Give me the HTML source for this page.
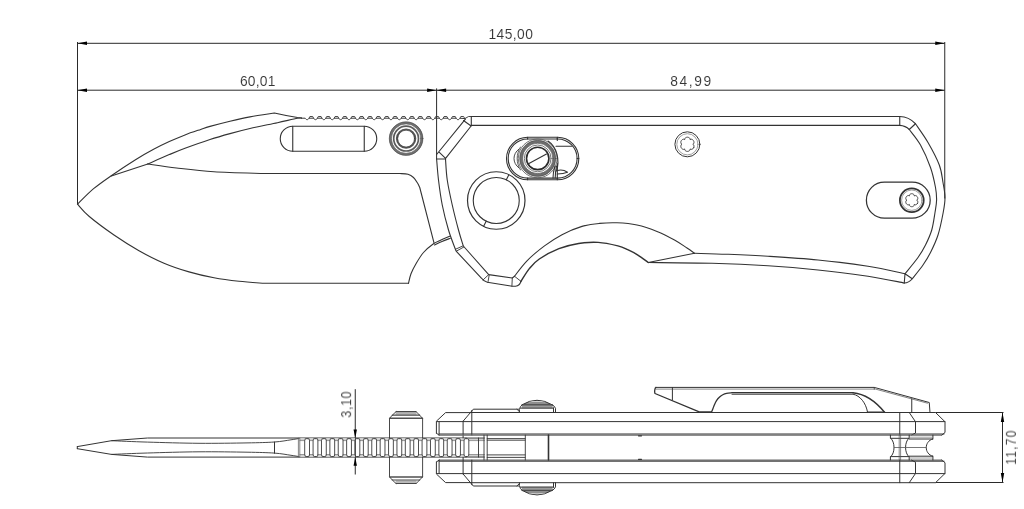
<!DOCTYPE html>
<html><head><meta charset="utf-8"><title>Knife drawing</title>
<style>
html,body{margin:0;padding:0;background:#fff;}
body{width:1024px;height:509px;overflow:hidden;font-family:"Liberation Sans",sans-serif;}
svg{display:block;}
</style></head><body>
<svg width="1024" height="509" viewBox="0 0 1024 509">
<rect width="1024" height="509" fill="#fff"/>
<g stroke="#2a2a2a" stroke-width="1" fill="none">
<path d="M77.5 42V204.2"/>
<path d="M944.75 42V198.5"/>
<path d="M436.6 88.4V159"/>
<path d="M77.5 43.3H944.75"/>
<path d="M77.5 90.2H944.75"/>
<path d="M355.25 389.2V474.5"/>
<path d="M935.5 412.5H1003.5M935.5 482.5H1003.5M1002.5 412.5V482.5"/>
</g>
<g fill="#000" stroke="none">
<path d="M77.50 43.30 L87.00 41.60 L87.00 45.00 Z"/>
<path d="M944.75 43.30 L935.25 45.00 L935.25 41.60 Z"/>
<path d="M77.50 90.20 L87.00 88.50 L87.00 91.90 Z"/>
<path d="M944.75 90.20 L935.25 91.90 L935.25 88.50 Z"/>
<path d="M436.60 90.20 L427.10 91.90 L427.10 88.50 Z"/>
<path d="M436.60 90.20 L446.10 88.50 L446.10 91.90 Z"/>
<path d="M355.25 438.00 L353.55 429.50 L356.95 429.50 Z"/>
<path d="M355.25 457.30 L356.95 465.80 L353.55 465.80 Z"/>
<path d="M1002.50 412.50 L1004.20 422.00 L1000.80 422.00 Z"/>
<path d="M1002.50 482.50 L1000.80 473.00 L1004.20 473.00 Z"/>
</g>
<g font-family="'Liberation Sans', sans-serif" fill="#333" stroke="#fff" stroke-width="0.08" opacity="0.99">
<text transform="translate(488.5 38.5)" font-size="13.8" textLength="44.4" lengthAdjust="spacing">145,00</text>
<text transform="translate(239.9 85.6)" font-size="13.8" textLength="35.6" lengthAdjust="spacing">60,01</text>
<text transform="translate(670.2 85.6)" font-size="13.8" textLength="41" lengthAdjust="spacing">84,99</text>
<text transform="translate(351.1 417.6) rotate(-90) scale(0.87 1)" font-size="14.4" textLength="30.1" lengthAdjust="spacing">3,10</text>
<text transform="translate(1015.9 464.7) rotate(-90) scale(0.87 1)" font-size="14.0" textLength="39.2" lengthAdjust="spacing">11,70</text>
</g>
<g stroke="#333" stroke-width="1.1" fill="none" stroke-linecap="round" stroke-linejoin="round">
<path d="M77.66 204.00C80.32 201.45 87.99 193.42 93.60 188.70C99.21 183.98 104.32 180.53 111.30 175.70C118.28 170.87 128.45 164.10 135.50 159.70C142.55 155.30 147.97 152.32 153.60 149.30C159.23 146.28 164.07 144.00 169.30 141.60C174.53 139.20 179.77 136.93 185.00 134.90C190.23 132.87 196.53 130.82 200.70 129.40C204.87 127.98 205.12 127.77 210.00 126.40C214.88 125.03 223.33 122.79 230.00 121.20C236.67 119.61 242.60 118.20 250.00 116.85C257.40 115.49 270.33 113.70 274.40 113.07Q285.5 115.7 297.5 117.5L301.5 118"/>
<path d="M111.30 176.00L147.80 164.00"/>
<path d="M147.80 164.00C151.38 162.43 163.10 157.22 169.30 154.60C175.50 151.98 178.22 150.82 185.00 148.30C191.78 145.78 202.50 141.95 210.00 139.50C217.50 137.05 223.33 135.43 230.00 133.60C236.67 131.77 242.08 130.32 250.00 128.50C257.92 126.68 269.58 124.40 277.50 122.70C285.42 121.00 293.50 119.07 297.50 118.30C301.50 117.53 300.83 118.13 301.50 118.10"/>
<path d="M147.80 164.00C152.58 164.67 165.47 166.71 176.50 168.00C187.53 169.29 199.42 170.83 214.00 171.75C228.58 172.67 255.67 173.21 264.00 173.50L400.00 173.50C401.33 173.63 405.75 173.63 408.00 174.30C410.25 174.97 411.92 176.05 413.50 177.50C415.08 178.95 416.46 181.33 417.50 183.00C418.54 184.67 419.38 186.75 419.75 187.50L434.00 242.80"/>
<path d="M77.50 204.20C79.42 206.21 82.92 211.12 89.00 216.25C95.08 221.38 105.67 229.26 114.00 235.00C122.33 240.74 130.67 246.00 139.00 250.70C147.33 255.40 155.67 259.67 164.00 263.20C172.33 266.73 180.67 269.47 189.00 271.90C197.33 274.33 205.67 276.23 214.00 277.80C222.33 279.37 230.67 280.39 239.00 281.30C247.33 282.21 259.83 282.93 264.00 283.25L408.50 283.25"/>
<path d="M408.50 283.25C408.92 281.67 409.75 277.00 411.00 273.75C412.25 270.50 413.92 267.29 416.00 263.75C418.08 260.21 420.58 255.83 423.50 252.50C426.42 249.17 430.58 245.83 433.50 243.75C436.42 241.67 438.29 241.25 441.00 240.00C443.71 238.75 448.29 236.88 449.75 236.25"/>
<path d="M434.50 245.00C435.75 244.42 439.37 242.62 442.00 241.50C444.63 240.38 448.92 238.83 450.30 238.30"/>
<path d="M301.5 118.2L305.20 118.2C306.20 120.2 308.00 120.2 309.00 118.2L313.59 118.2C314.59 120.2 316.38 120.2 317.38 118.2L321.97 118.2C322.97 120.2 324.77 120.2 325.77 118.2L330.36 118.2C331.36 120.2 333.15 120.2 334.15 118.2L338.74 118.2C339.74 120.2 341.54 120.2 342.54 118.2L347.13 118.2C348.13 120.2 349.93 120.2 350.93 118.2L355.51 118.2C356.51 120.2 358.31 120.2 359.31 118.2L363.90 118.2C364.90 120.2 366.69 120.2 367.69 118.2L372.28 118.2C373.28 120.2 375.08 120.2 376.08 118.2L380.67 118.2C381.67 120.2 383.47 120.2 384.47 118.2L389.05 118.2C390.05 120.2 391.85 120.2 392.85 118.2L397.44 118.2C398.44 120.2 400.24 120.2 401.24 118.2L405.82 118.2C406.82 120.2 408.62 120.2 409.62 118.2L414.21 118.2C415.21 120.2 417.00 120.2 418.00 118.2L422.59 118.2C423.59 120.2 425.39 120.2 426.39 118.2L430.98 118.2C431.98 120.2 433.77 120.2 434.77 118.2L439.36 118.2C440.36 120.2 442.16 120.2 443.16 118.2L447.75 118.2C448.75 120.2 450.54 120.2 451.54 118.2L456.13 118.2C457.13 120.2 458.93 120.2 459.93 118.2L464.8 118.6" stroke-width="1.0" stroke="#383838"/>
<path d="M309.00 118.2L309.90 116.5H312.70L313.60 118.2M317.38 118.2L318.29 116.5H321.09L321.99 118.2M325.77 118.2L326.67 116.5H329.47L330.37 118.2M334.15 118.2L335.06 116.5H337.86L338.75 118.2M342.54 118.2L343.44 116.5H346.24L347.14 118.2M350.93 118.2L351.83 116.5H354.63L355.53 118.2M359.31 118.2L360.21 116.5H363.01L363.91 118.2M367.69 118.2L368.60 116.5H371.40L372.30 118.2M376.08 118.2L376.98 116.5H379.78L380.68 118.2M384.47 118.2L385.37 116.5H388.17L389.07 118.2M392.85 118.2L393.75 116.5H396.55L397.45 118.2M401.24 118.2L402.14 116.5H404.94L405.84 118.2M409.62 118.2L410.52 116.5H413.32L414.22 118.2M418.00 118.2L418.91 116.5H421.71L422.61 118.2M426.39 118.2L427.29 116.5H430.09L430.99 118.2M434.77 118.2L435.68 116.5H438.48L439.38 118.2M443.16 118.2L444.06 116.5H446.86L447.76 118.2M451.54 118.2L452.44 116.5H455.25L456.14 118.2M459.93 118.2L460.83 116.5H463.63L464.53 118.2" stroke-width="0.9" stroke="#383838"/>
<path d="M464.8 118.6L468.6 116.5H471.3" stroke-width="0.9"/>
<path d="M292.75 126.3H364.25A12.5 12.5 0 0 1 364.25 151.3H292.75A12.5 12.5 0 0 1 292.75 126.3Z"/>
<path d="M292.75 126.3V151.3M364.25 126.3V151.3"/>
<circle cx="406.10" cy="138.60" r="15.75" stroke-width="2.4" stroke="#707070"/>
<circle cx="406.10" cy="138.60" r="16.80" stroke-width="0.6" stroke="#444"/>
<circle cx="406.10" cy="138.60" r="14.70" stroke-width="0.6" stroke="#555"/>
<circle cx="406.10" cy="138.60" r="12.40" stroke-width="1.7" stroke="#5a5a5a"/>
<circle cx="406.10" cy="138.60" r="9.25" stroke-width="1.9" stroke="#555"/>
<circle cx="406.10" cy="138.60" r="8.40" stroke-width="0.6" stroke="#333"/>
<path d="M471.30 116.50L899.75 116.50C906 116.6 911.5 119.5 915.5 123.75C917.58 126.88 924.03 135.62 928.00 142.50C931.97 149.38 936.80 158.33 939.30 165.00C941.80 171.67 942.05 177.08 943.00 182.50C943.95 187.92 944.97 192.50 945.00 197.50C945.03 202.50 944.37 206.25 943.20 212.50C942.03 218.75 940.12 228.33 938.00 235.00C935.88 241.67 933.00 247.50 930.50 252.50C928.00 257.50 926.04 260.62 923.00 265.00C919.96 269.38 914.04 276.46 912.25 278.75C910 281.5 907.5 283 904.25 283"/>
<path d="M904.25 283.00C898.21 281.88 882.38 278.42 868.00 276.25C853.62 274.08 834.67 271.75 818.00 270.00C801.33 268.25 785.67 266.88 768.00 265.75C750.33 264.62 731.96 263.79 712.00 263.25C692.04 262.71 658.88 262.62 648.25 262.50"/>
<path d="M471.30 125.40L899.75 125.40C903.5 125.6 906.8 127 909.25 129.5C911.12 132.08 916.96 138.67 920.50 145.00C924.04 151.33 928.00 160.42 930.50 167.50C933.00 174.58 934.48 182.08 935.50 187.50C936.52 192.92 936.68 195.83 936.60 200.00C936.52 204.17 935.81 207.50 935.00 212.50C934.19 217.50 933.33 224.58 931.75 230.00C930.17 235.42 927.79 240.42 925.50 245.00C923.21 249.58 921.42 252.71 918.00 257.50C914.58 262.29 907.17 271.04 905.00 273.75"/>
<path d="M905.00 273.75C898.83 272.50 882.50 268.54 868.00 266.25C853.50 263.96 834.67 261.67 818.00 260.00C801.33 258.33 783.17 257.21 768.00 256.25C752.83 255.29 739.25 254.75 727.00 254.25C714.75 253.75 699.92 253.42 694.50 253.25"/>
<path d="M899.75 116.5V125.4M909.25 129.5L915.5 123.75M905 273.75L904.25 283M905 273.75L912.25 278.75"/>
<path d="M648.25 262.5L694.5 253.25"/>
<path d="M520.80 281.60C522.25 279.40 526.42 272.17 529.50 268.40C532.58 264.63 534.40 262.28 539.30 259.00C544.20 255.72 552.35 251.28 558.90 248.70C565.45 246.12 572.05 244.55 578.60 243.50C585.15 242.45 591.65 242.00 598.20 242.40C604.75 242.80 612.98 244.70 617.90 245.90C622.82 247.10 624.43 248.12 627.70 249.60C630.97 251.08 634.08 252.65 637.50 254.80C640.92 256.95 646.46 261.22 648.25 262.50" stroke-width="1.45"/>
<path d="M514.50 276.25C516.58 273.68 522.00 265.86 527.00 260.80C532.00 255.74 538.67 250.26 544.50 245.90C550.33 241.54 555.75 237.90 562.00 234.65C568.25 231.40 575.75 228.28 582.00 226.40C588.25 224.53 593.67 224.00 599.50 223.40C605.33 222.80 610.75 222.53 617.00 222.80C623.25 223.07 630.33 223.57 637.00 225.00C643.67 226.43 650.75 228.90 657.00 231.40C663.25 233.90 669.50 237.23 674.50 240.00C679.50 242.77 683.67 245.79 687.00 248.00C690.33 250.21 693.25 252.38 694.50 253.25"/>
<path d="M436.60 159.00C436.92 162.50 437.56 172.33 438.50 180.00C439.44 187.67 440.58 196.67 442.25 205.00C443.92 213.33 446.31 222.62 448.50 230.00C450.69 237.38 454.25 246.08 455.40 249.30Q455.7 250.6 456.6 251.6L481.60 278.30Q483.8 281.6 487.3 282.3L512.30 286.30L515.50 286.30C518.5 285.8 520.3 283.6 520.9 281.3"/>
<path d="M445.50 159.00C445.79 162.50 446.12 172.33 447.25 180.00C448.38 187.67 450.38 196.67 452.25 205.00C454.12 213.33 456.66 223.17 458.50 230.00C460.34 236.83 462.50 243.33 463.30 246.00L488.70 274.60L512.30 278.00L514.50 276.25"/>
<path d="M455.4 249.3L463.2 245.8M456.3 251.2L463.7 247.1M483 280L488.7 274.6M487.9 282.5L489.2 274.9M512.3 278L511.9 286.2M514.5 276.25L520.9 281.3" stroke-width="0.9"/>
<path d="M436.6 154.5L465.4 119.2M445.6 158.3L471.1 126M438.8 151.8L445.6 158.3M463.5 120.5L471.1 126M436.6 159H445.6M471.3 116.5V126"/>
<circle cx="496.25" cy="200.50" r="28.75" stroke-width="1.2"/>
<circle cx="496.25" cy="200.50" r="23.00"/>
<path d="M506.33 179.83 L508.85 174.66M486.17 221.17 L483.65 226.34"/>
<rect x="506.5" y="137.3" width="72.3" height="42.5" rx="21.25"/>
<rect x="508.2" y="139" width="68.9" height="39.1" rx="19.55"/>
<path d="M527.6 137.3V139M557.3 137.3V139M527.6 178.1V179.8M557.3 178.1V179.8M577.1 158.5H578.8"/>
<circle cx="537.70" cy="158.40" r="19.40" stroke-width="0.8" stroke="#555"/>
<circle cx="537.70" cy="158.40" r="16.60" stroke-width="2.9" stroke="#6e6e6e"/>
<circle cx="537.70" cy="158.40" r="18.00" stroke-width="0.6" stroke="#444"/>
<circle cx="537.70" cy="158.40" r="15.20" stroke-width="0.6" stroke="#444"/>
<circle cx="537.70" cy="158.40" r="13.40" stroke-width="0.9" stroke="#666"/>
<circle cx="537.70" cy="158.40" r="11.20" stroke-width="1.6" stroke="#2a2a2a"/>
<path d="M528 164L546.5 154"/>
<path d="M518.8 149.2C512.3 154 512.3 163 518.8 167.8" stroke-width="0.9"/>
<path d="M520.5 147C516 154 516 163 520.5 170" stroke-width="0.8"/>
<path d="M557.3 138V140.5M557.3 163.5V178.5M556 146.3H571.5"/>
<path d="M548 141C557 147 560 160 556.5 171"/>
<path d="M555 166C553.5 171 553 175 553 178M556.5 166C555.5 171 555.2 175 555.2 178"/>
<path d="M557.3 170.5C561 169.5 565 170.5 567.5 172.3C564 173.8 560.5 174 557.3 174"/>
<circle cx="687.40" cy="144.30" r="12.50" stroke-width="1.0"/>
<circle cx="687.40" cy="144.30" r="10.60" stroke-width="0.7" stroke="#777"/>
<path d="M693.55 147.85L693.19 148.35L692.74 148.78L692.21 149.11L691.62 149.33L690.96 149.39L690.10 148.98L690.02 149.93L689.64 150.47L689.16 150.87L688.61 151.16L688.02 151.34L687.40 151.40L686.78 151.34L686.19 151.16L685.64 150.87L685.16 150.47L684.78 149.93L684.70 148.98L683.84 149.39L683.18 149.33L682.59 149.11L682.06 148.78L681.61 148.35L681.25 147.85L680.99 147.29L680.85 146.68L680.83 146.06L680.94 145.44L681.22 144.84L682.00 144.30L681.22 143.76L680.94 143.16L680.83 142.54L680.85 141.92L680.99 141.31L681.25 140.75L681.61 140.25L682.06 139.82L682.59 139.49L683.18 139.27L683.84 139.21L684.70 139.62L684.78 138.67L685.16 138.13L685.64 137.73L686.19 137.44L686.78 137.26L687.40 137.20L688.02 137.26L688.61 137.44L689.16 137.73L689.64 138.13L690.02 138.67L690.10 139.62L690.96 139.21L691.62 139.27L692.21 139.49L692.74 139.82L693.19 140.25L693.55 140.75L693.81 141.31L693.95 141.92L693.97 142.54L693.86 143.16L693.58 143.76L692.80 144.30L693.58 144.84L693.86 145.44L693.97 146.06L693.95 146.68L693.81 147.29L693.55 147.85Z" stroke-width="0.9"/>
<circle cx="911.80" cy="200.20" r="11.90" stroke-width="1.8"/>
<circle cx="911.80" cy="200.20" r="10.20" stroke-width="0.7" stroke="#777"/>
<path d="M917.43 203.45L917.10 203.91L916.69 204.30L916.20 204.60L915.65 204.79L915.05 204.84L914.25 204.44L914.19 205.33L913.85 205.83L913.41 206.21L912.91 206.48L912.36 206.65L911.80 206.70L911.24 206.65L910.69 206.48L910.19 206.21L909.75 205.83L909.41 205.33L909.35 204.44L908.55 204.84L907.95 204.79L907.40 204.60L906.91 204.30L906.50 203.91L906.17 203.45L905.94 202.93L905.81 202.38L905.79 201.81L905.90 201.24L906.16 200.69L906.90 200.20L906.16 199.71L905.90 199.16L905.79 198.59L905.81 198.02L905.94 197.47L906.17 196.95L906.50 196.49L906.91 196.10L907.40 195.80L907.95 195.61L908.55 195.56L909.35 195.96L909.41 195.07L909.75 194.57L910.19 194.19L910.69 193.92L911.24 193.75L911.80 193.70L912.36 193.75L912.91 193.92L913.41 194.19L913.85 194.57L914.19 195.07L914.25 195.96L915.05 195.56L915.65 195.61L916.20 195.80L916.69 196.10L917.10 196.49L917.43 196.95L917.66 197.47L917.79 198.02L917.81 198.59L917.70 199.16L917.44 199.71L916.70 200.20L917.44 200.69L917.70 201.24L917.81 201.81L917.79 202.38L917.66 202.93L917.43 203.45Z" stroke-width="0.9"/>
<path d="M884.45 182.1H912.15A18.05 18.05 0 0 1 912.15 218.2H884.45A18.05 18.05 0 0 1 884.45 182.1Z" stroke-width="1.25"/>
</g>
<g stroke="#333" stroke-width="1" fill="none" stroke-linecap="round" stroke-linejoin="round">
<path d="M77.3 446.6V448.7"/>
<path d="M77.3 446.6L111.5 440.7L147.5 438H466"/>
<path d="M77.3 448.7L111.5 454.4L147.5 457.1H466"/>
<path d="M111.50 440.70C117.50 440.93 132.92 441.67 147.50 442.10C162.08 442.53 182.42 443.17 199.00 443.30C215.58 443.43 234.42 443.12 247.00 442.90C259.58 442.68 267.17 442.52 274.50 442.00C281.83 441.48 286.92 440.38 291.00 439.80C295.08 439.22 297.67 438.72 299.00 438.50" stroke-width="0.9"/>
<path d="M111.50 454.40C117.50 454.17 132.92 453.43 147.50 453.00C162.08 452.57 182.42 451.93 199.00 451.80C215.58 451.67 234.42 451.98 247.00 452.20C259.58 452.42 267.17 452.58 274.50 453.10C281.83 453.62 286.92 454.72 291.00 455.30C295.08 455.88 297.67 456.38 299.00 456.60" stroke-width="0.9"/>
<path d="M274.5 442V453.3"/>
<rect x="309.50" y="438" width="3.59" height="2.6" fill="#cfcfcf" stroke="none"/><rect x="309.50" y="454.5" width="3.59" height="2.6" fill="#cfcfcf" stroke="none"/><rect x="317.88" y="438" width="3.59" height="2.6" fill="#cfcfcf" stroke="none"/><rect x="317.88" y="454.5" width="3.59" height="2.6" fill="#cfcfcf" stroke="none"/><rect x="326.27" y="438" width="3.59" height="2.6" fill="#cfcfcf" stroke="none"/><rect x="326.27" y="454.5" width="3.59" height="2.6" fill="#cfcfcf" stroke="none"/><rect x="334.65" y="438" width="3.59" height="2.6" fill="#cfcfcf" stroke="none"/><rect x="334.65" y="454.5" width="3.59" height="2.6" fill="#cfcfcf" stroke="none"/><rect x="343.04" y="438" width="3.59" height="2.6" fill="#cfcfcf" stroke="none"/><rect x="343.04" y="454.5" width="3.59" height="2.6" fill="#cfcfcf" stroke="none"/><rect x="351.43" y="438" width="3.59" height="2.6" fill="#cfcfcf" stroke="none"/><rect x="351.43" y="454.5" width="3.59" height="2.6" fill="#cfcfcf" stroke="none"/><rect x="359.81" y="438" width="3.59" height="2.6" fill="#cfcfcf" stroke="none"/><rect x="359.81" y="454.5" width="3.59" height="2.6" fill="#cfcfcf" stroke="none"/><rect x="368.19" y="438" width="3.59" height="2.6" fill="#cfcfcf" stroke="none"/><rect x="368.19" y="454.5" width="3.59" height="2.6" fill="#cfcfcf" stroke="none"/><rect x="376.58" y="438" width="3.59" height="2.6" fill="#cfcfcf" stroke="none"/><rect x="376.58" y="454.5" width="3.59" height="2.6" fill="#cfcfcf" stroke="none"/><rect x="384.97" y="438" width="3.59" height="2.6" fill="#cfcfcf" stroke="none"/><rect x="384.97" y="454.5" width="3.59" height="2.6" fill="#cfcfcf" stroke="none"/><rect x="393.35" y="438" width="3.59" height="2.6" fill="#cfcfcf" stroke="none"/><rect x="393.35" y="454.5" width="3.59" height="2.6" fill="#cfcfcf" stroke="none"/><rect x="401.74" y="438" width="3.59" height="2.6" fill="#cfcfcf" stroke="none"/><rect x="401.74" y="454.5" width="3.59" height="2.6" fill="#cfcfcf" stroke="none"/><rect x="410.12" y="438" width="3.59" height="2.6" fill="#cfcfcf" stroke="none"/><rect x="410.12" y="454.5" width="3.59" height="2.6" fill="#cfcfcf" stroke="none"/><rect x="418.50" y="438" width="3.59" height="2.6" fill="#cfcfcf" stroke="none"/><rect x="418.50" y="454.5" width="3.59" height="2.6" fill="#cfcfcf" stroke="none"/><rect x="426.89" y="438" width="3.59" height="2.6" fill="#cfcfcf" stroke="none"/><rect x="426.89" y="454.5" width="3.59" height="2.6" fill="#cfcfcf" stroke="none"/><rect x="435.27" y="438" width="3.59" height="2.6" fill="#cfcfcf" stroke="none"/><rect x="435.27" y="454.5" width="3.59" height="2.6" fill="#cfcfcf" stroke="none"/><rect x="443.66" y="438" width="3.59" height="2.6" fill="#cfcfcf" stroke="none"/><rect x="443.66" y="454.5" width="3.59" height="2.6" fill="#cfcfcf" stroke="none"/><rect x="452.04" y="438" width="3.59" height="2.6" fill="#cfcfcf" stroke="none"/><rect x="452.04" y="454.5" width="3.59" height="2.6" fill="#cfcfcf" stroke="none"/><rect x="460.43" y="438" width="3.59" height="2.6" fill="#cfcfcf" stroke="none"/><rect x="460.43" y="454.5" width="3.59" height="2.6" fill="#cfcfcf" stroke="none"/><rect x="468.81" y="438" width="15.58" height="2.6" fill="#cfcfcf" stroke="none"/><rect x="468.81" y="454.5" width="15.58" height="2.6" fill="#cfcfcf" stroke="none"/><rect x="299.8" y="438" width="4.9" height="2.6" fill="#cfcfcf" stroke="none"/><rect x="299.8" y="454.5" width="4.9" height="2.6" fill="#cfcfcf" stroke="none"/>
<path d="M309.50 440.6H313.09M309.50 454.5H313.09M317.88 440.6H321.47M317.88 454.5H321.47M326.27 440.6H329.86M326.27 454.5H329.86M334.65 440.6H338.24M334.65 454.5H338.24M343.04 440.6H346.63M343.04 454.5H346.63M351.43 440.6H355.01M351.43 454.5H355.01M359.81 440.6H363.40M359.81 454.5H363.40M368.19 440.6H371.78M368.19 454.5H371.78M376.58 440.6H380.17M376.58 454.5H380.17M384.97 440.6H388.55M384.97 454.5H388.55M393.35 440.6H396.94M393.35 454.5H396.94M401.74 440.6H405.32M401.74 454.5H405.32M410.12 440.6H413.71M410.12 454.5H413.71M418.50 440.6H422.09M418.50 454.5H422.09M426.89 440.6H430.48M426.89 454.5H430.48M435.27 440.6H438.86M435.27 454.5H438.86M443.66 440.6H447.25M443.66 454.5H447.25M452.04 440.6H455.63M452.04 454.5H455.63M460.43 440.6H464.02M460.43 454.5H464.02M468.81 440.6H484.40M468.81 454.5H484.40M299.8 440.6H304.7M299.8 454.5H304.7" stroke-width="0.7" stroke="#777"/>
<path d="M304.70 440.2a1.5 1.5 0 0 1 1.5 -1.5h1.8a1.5 1.5 0 0 1 1.5 1.5V455a1.5 1.5 0 0 1 -1.5 1.5h-1.8a1.5 1.5 0 0 1 -1.5 -1.5ZM313.09 440.2a1.5 1.5 0 0 1 1.5 -1.5h1.8a1.5 1.5 0 0 1 1.5 1.5V455a1.5 1.5 0 0 1 -1.5 1.5h-1.8a1.5 1.5 0 0 1 -1.5 -1.5ZM321.47 440.2a1.5 1.5 0 0 1 1.5 -1.5h1.8a1.5 1.5 0 0 1 1.5 1.5V455a1.5 1.5 0 0 1 -1.5 1.5h-1.8a1.5 1.5 0 0 1 -1.5 -1.5ZM329.86 440.2a1.5 1.5 0 0 1 1.5 -1.5h1.8a1.5 1.5 0 0 1 1.5 1.5V455a1.5 1.5 0 0 1 -1.5 1.5h-1.8a1.5 1.5 0 0 1 -1.5 -1.5ZM338.24 440.2a1.5 1.5 0 0 1 1.5 -1.5h1.8a1.5 1.5 0 0 1 1.5 1.5V455a1.5 1.5 0 0 1 -1.5 1.5h-1.8a1.5 1.5 0 0 1 -1.5 -1.5ZM346.63 440.2a1.5 1.5 0 0 1 1.5 -1.5h1.8a1.5 1.5 0 0 1 1.5 1.5V455a1.5 1.5 0 0 1 -1.5 1.5h-1.8a1.5 1.5 0 0 1 -1.5 -1.5ZM355.01 440.2a1.5 1.5 0 0 1 1.5 -1.5h1.8a1.5 1.5 0 0 1 1.5 1.5V455a1.5 1.5 0 0 1 -1.5 1.5h-1.8a1.5 1.5 0 0 1 -1.5 -1.5ZM363.40 440.2a1.5 1.5 0 0 1 1.5 -1.5h1.8a1.5 1.5 0 0 1 1.5 1.5V455a1.5 1.5 0 0 1 -1.5 1.5h-1.8a1.5 1.5 0 0 1 -1.5 -1.5ZM371.78 440.2a1.5 1.5 0 0 1 1.5 -1.5h1.8a1.5 1.5 0 0 1 1.5 1.5V455a1.5 1.5 0 0 1 -1.5 1.5h-1.8a1.5 1.5 0 0 1 -1.5 -1.5ZM380.17 440.2a1.5 1.5 0 0 1 1.5 -1.5h1.8a1.5 1.5 0 0 1 1.5 1.5V455a1.5 1.5 0 0 1 -1.5 1.5h-1.8a1.5 1.5 0 0 1 -1.5 -1.5ZM388.55 440.2a1.5 1.5 0 0 1 1.5 -1.5h1.8a1.5 1.5 0 0 1 1.5 1.5V455a1.5 1.5 0 0 1 -1.5 1.5h-1.8a1.5 1.5 0 0 1 -1.5 -1.5ZM396.94 440.2a1.5 1.5 0 0 1 1.5 -1.5h1.8a1.5 1.5 0 0 1 1.5 1.5V455a1.5 1.5 0 0 1 -1.5 1.5h-1.8a1.5 1.5 0 0 1 -1.5 -1.5ZM405.32 440.2a1.5 1.5 0 0 1 1.5 -1.5h1.8a1.5 1.5 0 0 1 1.5 1.5V455a1.5 1.5 0 0 1 -1.5 1.5h-1.8a1.5 1.5 0 0 1 -1.5 -1.5ZM413.71 440.2a1.5 1.5 0 0 1 1.5 -1.5h1.8a1.5 1.5 0 0 1 1.5 1.5V455a1.5 1.5 0 0 1 -1.5 1.5h-1.8a1.5 1.5 0 0 1 -1.5 -1.5ZM422.09 440.2a1.5 1.5 0 0 1 1.5 -1.5h1.8a1.5 1.5 0 0 1 1.5 1.5V455a1.5 1.5 0 0 1 -1.5 1.5h-1.8a1.5 1.5 0 0 1 -1.5 -1.5ZM430.48 440.2a1.5 1.5 0 0 1 1.5 -1.5h1.8a1.5 1.5 0 0 1 1.5 1.5V455a1.5 1.5 0 0 1 -1.5 1.5h-1.8a1.5 1.5 0 0 1 -1.5 -1.5ZM438.86 440.2a1.5 1.5 0 0 1 1.5 -1.5h1.8a1.5 1.5 0 0 1 1.5 1.5V455a1.5 1.5 0 0 1 -1.5 1.5h-1.8a1.5 1.5 0 0 1 -1.5 -1.5ZM447.25 440.2a1.5 1.5 0 0 1 1.5 -1.5h1.8a1.5 1.5 0 0 1 1.5 1.5V455a1.5 1.5 0 0 1 -1.5 1.5h-1.8a1.5 1.5 0 0 1 -1.5 -1.5ZM455.63 440.2a1.5 1.5 0 0 1 1.5 -1.5h1.8a1.5 1.5 0 0 1 1.5 1.5V455a1.5 1.5 0 0 1 -1.5 1.5h-1.8a1.5 1.5 0 0 1 -1.5 -1.5ZM464.02 440.2a1.5 1.5 0 0 1 1.5 -1.5h1.8a1.5 1.5 0 0 1 1.5 1.5V455a1.5 1.5 0 0 1 -1.5 1.5h-1.8a1.5 1.5 0 0 1 -1.5 -1.5Z" stroke-width="0.9" stroke="#3a3a3a"/>
<path d="M298.4 438V457.1M299.8 438V457.1" stroke-width="0.8" stroke="#666"/>
<path d="M466 438H484.4M466 457.1H484.4M478.5 438V457.1" stroke-width="0.9"/>
<rect x="395.6" y="412.30" width="20.9" height="2.4" fill="#b4b4b4" stroke="none"/>
<path d="M396.2 411.70 H416" stroke-width="1.2" stroke="#484848"/>
<path d="M392.3 415.20 H419.6" stroke-width="1.2" stroke="#484848"/>
<path d="M389.8 418.20 H422.4" stroke-width="1.5" stroke="#505050"/>
<path d="M396 411.70 L392.3 415.20 L389.5 418.40 V438.00 M416.2 411.70 L419.6 415.20 L422.6 418.40 V438.00" stroke-width="0.9"/>
<rect x="395.6" y="480.50" width="20.9" height="2.4" fill="#b4b4b4" stroke="none"/>
<path d="M396.2 483.50 H416" stroke-width="1.2" stroke="#484848"/>
<path d="M392.3 480.00 H419.6" stroke-width="1.2" stroke="#484848"/>
<path d="M389.8 477.00 H422.4" stroke-width="1.5" stroke="#505050"/>
<path d="M396 483.50 L392.3 480.00 L389.5 476.80 V457.20 M416.2 483.50 L419.6 480.00 L422.6 476.80 V457.20" stroke-width="0.9"/>
<path d="M436.4 433.20 V421.20 L445.6 412.60 H470.5M436.4 433.20 L439.1 435.10M439.1 421.80 V435.10M437 421.60 H945M463.1 421.20 L473.3 409.20 H518.6M463.1 421.20 V438.00 M471.8 410.50 V435.10M471 412.50 H935.5 L945 421.75 V432.50 L941.75 435.10M439 434.00 H944M899.75 412.50 V435.10M909.25 412.50 L915.5 421.75 V433.00 L911.5 435.10"/>
<path d="M439.1 435.1H941.75M439.1 460.1H941.75" stroke-width="1.1" stroke="#6a6a6a"/>
<path d="M436.4 462.00 V474.00 L445.6 482.60 H470.5M436.4 462.00 L439.1 460.10M439.1 473.40 V460.10M437 473.60 H945M463.1 474.00 L473.3 486.00 H518.6M463.1 474.00 V457.20 M471.8 484.70 V460.10M471 482.70 H935.5 L945 473.45 V462.70 L941.75 460.10M439 461.20 H944M899.75 482.70 V460.10M909.25 482.70 L915.5 473.45 V462.20 L911.5 460.10"/>
<path d="M522.4 404.60 Q537 395.70 551.8 404.60 Z" fill="#8e8e8e" stroke="#333" stroke-width="1"/>
<path d="M528 402.20 Q537 399.60 546 402.20 Q537 401.40 528 402.20 Z" fill="#e8e8e8" stroke="none"/>
<rect x="521.8" y="404.60" width="30.8" height="3.9" fill="#9a9a9a" stroke="none"/>
<path d="M521.8 404.90 H552.6" stroke-width="1.0" stroke="#444"/>
<path d="M520.5 408.10 H553.2" stroke-width="1.2" stroke="#555"/>
<path d="M519.4 412.50 V409.50 Q519.8 406.30 522.4 404.60 M551.8 404.60 Q554.6 405.80 555.5 408.30 V412.50 M553.5 407.80 V412.50 M517 409.30 L519.4 411.60"/>
<path d="M522.4 490.60 Q537 499.50 551.8 490.60 Z" fill="#8e8e8e" stroke="#333" stroke-width="1"/>
<path d="M528 493.00 Q537 495.60 546 493.00 Q537 493.80 528 493.00 Z" fill="#e8e8e8" stroke="none"/>
<rect x="521.8" y="486.70" width="30.8" height="3.9" fill="#9a9a9a" stroke="none"/>
<path d="M521.8 490.30 H552.6" stroke-width="1.0" stroke="#444"/>
<path d="M520.5 487.10 H553.2" stroke-width="1.2" stroke="#555"/>
<path d="M519.4 482.70 V485.70 Q519.8 488.90 522.4 490.60 M551.8 490.60 Q554.6 489.40 555.5 486.90 V482.70 M553.5 487.40 V482.70 M517 485.90 L519.4 483.60"/>
<path d="M484 435.1V460M487.2 435.1V460M487.2 438.6H525M487.2 440.2H525M487.2 454.9H525M487.2 457.4H525M525.3 435.1V460" stroke-width="0.9"/>
<path d="M548.5 435.1V460" stroke-width="1.6"/>
<path d="M638.5 435.8H641.5M638.5 459.3H641.5" stroke-width="1.2"/>
<path d="M890.4 435.1V438.3H909.2V435.1M890.4 460V456.6H909.2V460M890.8 438.3C895.2 442 895.2 453 890.8 456.6M908.8 438.3C904.4 442 904.4 453 908.8 456.6"/>
<path d="M909.2 439H932.6M932.9 435.1V439M909.2 456.2H932.6M932.9 460V456.2M932.6 439C924 441.5 924 453.7 932.6 456.2"/>
<path d="M909.2 437.2H932.9M909.2 458H932.9" stroke-width="0.7" stroke="#777"/>
<path d="M894.1 447.5H926" stroke-width="0.8" stroke="#555"/>
<path d="M899.2 435V460M900.6 435V460" stroke-width="0.7" stroke="#555"/>
<path d="M656 387.4H874.25L929.25 402.5L930 412.5"/>
<path d="M656 389.1H875.5L927.5 403.2" stroke-width="0.6"/>
<path d="M874.25 387.4V389.1" stroke-width="0.8"/>
<path d="M656 387.4C654.6 388 654.4 392 655 393.5L699.2 411.9H711.6C711.83 411.33 712.55 409.65 713.00 408.50C713.45 407.35 713.72 406.32 714.30 405.00C714.88 403.68 715.62 401.92 716.50 400.60C717.38 399.28 718.55 398.07 719.60 397.10C720.65 396.13 721.63 395.42 722.80 394.80C723.97 394.18 725.07 393.75 726.60 393.40C728.13 393.05 731.10 392.82 732.00 392.70H853" stroke-width="1.3"/>
<path d="M732 394.2H853C860 395.5 866 403 867.5 412"/>
<path d="M853 392.7C866 394 877 403 884.5 412.2" stroke-width="1.5"/>
<path d="M867.5 412.2H884.5" stroke-width="1.5"/>
<path d="M672.4 387.4V399.75M911.75 398.75V412.5"/>
</g>
</svg>
</body></html>
